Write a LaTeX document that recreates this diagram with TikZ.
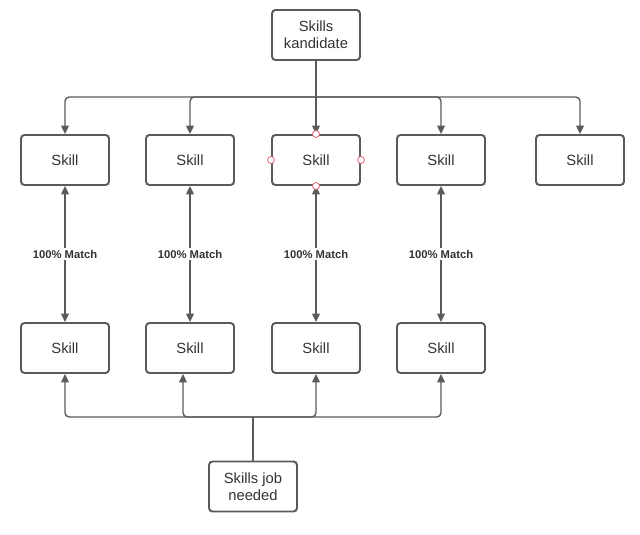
\documentclass[tikz,border=0pt]{standalone}
\usepackage{fontspec}
\setmainfont{Liberation Sans}
\usetikzlibrary{arrows.meta, positioning, calc}

\begin{document}
\begin{tikzpicture}[
    every node/.style={font=\rmfamily},
    skillbox/.style={draw=linecolor, line width=1.4pt, rounded corners=2.5pt,
        minimum width=2.2cm, minimum height=1.25cm, align=center,
        text=textcolor, font=\fontsize{10.5}{12}\selectfont},
    link/.style={draw=linecolor, line width=1pt, rounded corners=3pt,
        -{Triangle[length=6pt, width=5.5pt]}},
    matchlink/.style={draw=linecolor, line width=1pt,
        {Triangle[length=6pt, width=5.5pt]}-{Triangle[length=6pt, width=5.5pt]}},
    matchlabel/.style={fill=white, inner sep=1pt, text=textcolor,
        font=\fontsize{8}{10}\selectfont\bfseries},
    handle/.style={circle, draw=handlecolor, fill=white, line width=0.6pt,
        minimum size=5pt, inner sep=0pt},
]

% ---------------------------------------------------------------- colours
\definecolor{linecolor}{HTML}{5A5A5A}
\definecolor{textcolor}{HTML}{333333}
\definecolor{handlecolor}{HTML}{E2707C}

\useasboundingbox (0,0) rectangle (16,-13.375);

% ================================================================
%   columns   x = 1.625, 4.75, 7.9, 11.025, 14.5
%   rows      candidate y = -4.0, needed y = -8.7
% ================================================================

\node[skillbox] (cand) at (7.9,-0.875) {Skills\\kandidate};
\node[skillbox] (job) at (6.325,-12.1625) {Skills job\\needed};

% candidate skills (top row) and needed skills (bottom row)
\foreach \i/\x in {1/1.625, 2/4.75, 3/7.9, 4/11.025, 5/14.5} {
    \node[skillbox] (s\i) at (\x,-4.0) {Skill};
}
\foreach \i/\x in {1/1.625, 2/4.75, 3/7.9, 4/11.025} {
    \node[skillbox] (m\i) at (\x,-8.7) {Skill};
}

% top bus
\coordinate (busT) at (7.9,-2.425);
\draw[draw=linecolor, line width=1pt] (cand.south) -- (busT);
\foreach \i in {1,...,5} {
    \draw[link] (busT) -| (s\i.north);
}

% bottom bus
\coordinate (busB) at (6.325,-10.425);
\draw[draw=linecolor, line width=1pt] (job.north) -- (busB);
\draw[link] (busB) -| (m1.south);
\draw[link] (busB) -| ([xshift=-5pt]m2.south);
\draw[link] (busB) -| (m3.south);
\draw[link] (busB) -| (m4.south);

% matches
\foreach \i in {1,...,4} {
    \draw[matchlink] (s\i.south) -- (m\i.north)
        node[midway, matchlabel] (lbl\i) {100\% Match};
}

% selection handles on the middle box
\foreach \a in {north, south, east, west} {
    \node[handle] (h\a) at (s3.\a) {};
}

\end{tikzpicture}
\end{document}
